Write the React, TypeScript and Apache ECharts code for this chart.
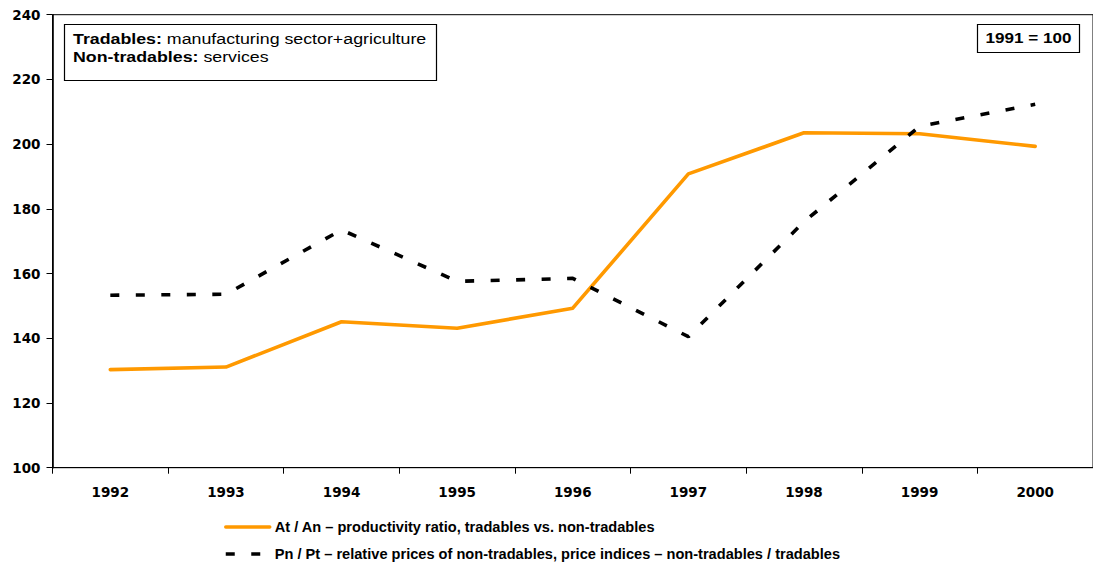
import React, { useEffect, useRef } from "react";
import * as echarts from "echarts";

// Index values, 1991 = 100
const years = ["1992", "1993", "1994", "1995", "1996", "1997", "1998", "1999", "2000"];
const productivityRatio = [130.3, 131.1, 145.1, 143.1, 149.3, 190.8, 203.5, 203.2, 199.3];
const relativePrices = [153.3, 153.6, 173.5, 157.6, 158.5, 140.5, 176.0, 205.5, 212.3];

const seriesNames = [
  "At / An \u2013 productivity ratio, tradables vs. non-tradables",
  "Pn / Pt \u2013 relative prices of non-tradables, price indices \u2013 non-tradables / tradables",
];

const yMin = 100;
const yMax = 240;
const yStep = 20;

const ARIAL = "'Liberation Sans', Arial, sans-serif";
const WIDE = "'DejaVu Sans', Verdana, sans-serif";

export default function App() {
  const ref = useRef<HTMLDivElement>(null);

  useEffect(() => {
    if (!ref.current) return;
    const chart = echarts.init(ref.current, null, { renderer: "svg" });

    chart.setOption({
      animation: false,
      backgroundColor: "#ffffff",
      grid: {
        left: 52.5,
        top: 14.7,
        width: 1050,
        height: 453,
        show: true,
        borderColor: "#000",
        borderWidth: 1,
        backgroundColor: "transparent",
      },
      legend: {
        orient: "vertical",
        left: 224,
        top: 516,
        padding: 0,
        itemGap: 5,
        itemWidth: 44,
        itemHeight: 14,
        selectedMode: false,
        itemStyle: { opacity: 0 },
        lineStyle: { width: 3.5 },
        textStyle: {
          fontFamily: ARIAL,
          fontWeight: "bold",
          fontSize: 14.6,
          lineHeight: 18,
          padding: [4, 0, 0, 0],
          color: "#000",
        },
        data: seriesNames,
      },
      xAxis: {
        type: "category",
        data: years,
        boundaryGap: true,
        axisLine: { lineStyle: { color: "#000", width: 1 } },
        axisTick: { show: true, length: 6, inside: false, lineStyle: { color: "#000" } },
        axisLabel: {
          color: "#000",
          fontFamily: WIDE,
          fontWeight: "bold",
          fontSize: 13.5,
          margin: 17,
        },
        splitLine: { show: false },
      },
      yAxis: {
        type: "value",
        min: yMin,
        max: yMax,
        interval: yStep,
        axisLine: { show: true, lineStyle: { color: "#000", width: 1.6 } },
        axisTick: { show: true, length: 6, lineStyle: { color: "#000" } },
        axisLabel: {
          color: "#000",
          fontFamily: WIDE,
          fontWeight: "bold",
          fontSize: 13.5,
          margin: 12,
        },
        splitLine: { show: false },
      },
      series: [
        {
          name: seriesNames[0],
          type: "line",
          data: productivityRatio,
          symbol: "none",
          lineStyle: { color: "#FF9900", width: 3.6, cap: "round", join: "round" },
          itemStyle: { color: "#FF9900" },
          z: 2,
        },
        {
          name: seriesNames[1],
          type: "line",
          data: relativePrices,
          symbol: "none",
          lineStyle: { color: "#000", width: 3.6, type: [9, 16.5], cap: "butt" },
          itemStyle: { color: "#000" },
          z: 3,
        },
      ],
      graphic: [
        {
          type: "rect",
          shape: { x: 64.5, y: 24.5, width: 372, height: 56 },
          style: { fill: "#fff", stroke: "#000", lineWidth: 1.2 },
          z: 10,
        },
        {
          type: "text",
          x: 73,
          y: 39.5,
          scaleX: 1.27,
          z: 11,
          style: {
            text: "{b|Tradables:} manufacturing sector+agriculture",
            fontFamily: ARIAL,
            fontSize: 14,
            fill: "#000",
            align: "left",
            verticalAlign: "middle",
            rich: { b: { fontFamily: ARIAL, fontSize: 14, fontWeight: "bold", fill: "#000" } },
          },
        },
        {
          type: "text",
          x: 73,
          y: 57.5,
          scaleX: 1.27,
          z: 11,
          style: {
            text: "{b|Non-tradables:} services",
            fontFamily: ARIAL,
            fontSize: 14,
            fill: "#000",
            align: "left",
            verticalAlign: "middle",
            rich: { b: { fontFamily: ARIAL, fontSize: 14, fontWeight: "bold", fill: "#000" } },
          },
        },
        {
          type: "rect",
          shape: { x: 977.5, y: 24.5, width: 102, height: 28 },
          style: { fill: "#fff", stroke: "#000", lineWidth: 1.2 },
          z: 10,
        },
        {
          type: "text",
          x: 1028.5,
          y: 38.5,
          scaleX: 1.22,
          z: 11,
          style: {
            text: "1991 = 100",
            fontFamily: ARIAL,
            fontSize: 14,
            fontWeight: "bold",
            fill: "#000",
            align: "center",
            verticalAlign: "middle",
          },
        },
      ],
    });

    return () => chart.dispose();
  }, []);

  return (
    <div
      ref={ref}
      style={{ position: "fixed", left: 0, top: 0, width: 1093, height: 567, background: "#fff" }}
    />
  );
}
